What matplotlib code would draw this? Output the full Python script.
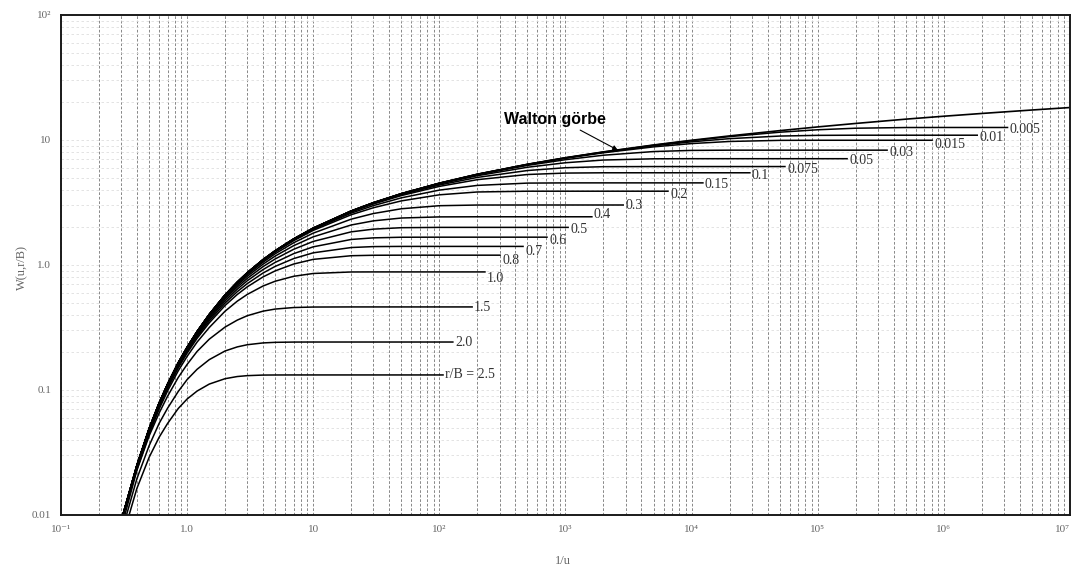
import matplotlib.pyplot as plt
from matplotlib.ticker import LogLocator, NullFormatter

# 1/u grid shared by all curves (each leaky curve uses the first len(w) points)
inv_u = [0.4, 0.5, 0.6, 0.7, 0.85, 1, 1.2, 1.5, 2, 2.5, 3, 4, 5, 7, 10,
         20, 30, 50, 100, 200, 500, 1e3, 2e3, 5e3, 1e4, 2e4, 5e4,
         1e5, 2e5, 5e5, 1e6, 2e6, 5e6, 1e7]

# Walton (Theis) curve
walton_start = 0.31
walton_w = [0.0249, 0.0489, 0.0784, 0.111, 0.1645, 0.219, 0.293, 0.402, 0.575, 0.728,
            0.866, 1.102, 1.299, 1.615, 1.970, 2.702, 3.148, 3.72, 4.51, 5.32, 6.39,
            7.21, 8.03, 9.12, 9.95, 10.78, 11.88, 12.72, 13.56, 14.68, 15.49, 16.30,
            17.37, 18.18]

# leaky curves W(u, r/B)
rb_labels = ["0.005", "0.01", "0.015", "0.03", "0.05", "0.075", "0.1", "0.15", "0.2",
             "0.3", "0.4", "0.5", "0.6", "0.7", "0.8", "1.0", "1.5", "2.0", "r/B = 2.5"]
rb_start = [0.31, 0.31, 0.31, 0.31, 0.31, 0.31, 0.31, 0.31, 0.31,
            0.31, 0.31, 0.31, 0.31, 0.31, 0.31, 0.31, 0.321, 0.331, 0.347]
rb_end = [3.2e6, 1.84e6, 8.07e5, 3.55e5, 1.71e5, 5.5e4, 2.9e4, 1.23e4, 6.5e3,
          2.87e3, 1.62e3, 1.05e3, 714, 461, 303, 230, 182, 128, 107]
rb_w = [
    [0.0249, 0.0489, 0.0784, 0.111, 0.1645, 0.219, 0.293, 0.402, 0.575, 0.728, 0.866, 1.102,
     1.299, 1.615, 1.970, 2.702, 3.148, 3.72, 4.51, 5.32, 6.39, 7.20, 8.01, 9.08, 9.87,
     10.64, 11.54, 12.07, 12.42, 12.58, 12.59],
    [0.0249, 0.0489, 0.0784, 0.111, 0.1645, 0.219, 0.293, 0.402, 0.575, 0.728, 0.866, 1.102,
     1.299, 1.615, 1.970, 2.702, 3.148, 3.72, 4.51, 5.31, 6.37, 7.18, 7.97, 8.98, 9.67,
     10.25, 10.75, 10.89, 10.92],
    [0.0249, 0.0489, 0.0784, 0.111, 0.1645, 0.219, 0.293, 0.402, 0.575, 0.728, 0.866, 1.102,
     1.299, 1.615, 1.970, 2.702, 3.148, 3.72, 4.50, 5.30, 6.36, 7.14, 7.90, 8.81, 9.36,
     9.73, 9.93, 9.95],
    [0.0249, 0.0489, 0.0784, 0.111, 0.1645, 0.219, 0.293, 0.402, 0.575, 0.728, 0.866, 1.102,
     1.299, 1.615, 1.970, 2.702, 3.141, 3.708, 4.488, 5.266, 6.261, 6.957, 7.552, 8.081,
     8.254, 8.29],
    [0.0249, 0.0489, 0.0784, 0.111, 0.1645, 0.219, 0.293, 0.402, 0.575, 0.728, 0.866, 1.102,
     1.299, 1.615, 1.965, 2.691, 3.129, 3.687, 4.444, 5.178, 6.052, 6.574, 6.912, 7.071,
     7.084],
    [0.0249, 0.0489, 0.0784, 0.111, 0.1645, 0.219, 0.293, 0.402, 0.575, 0.728, 0.865, 1.101,
     1.296, 1.607, 1.959, 2.676, 3.106, 3.648, 4.362, 5.018, 5.697, 5.999, 6.115, 6.13],
    [0.0249, 0.0489, 0.0783, 0.111, 0.1643, 0.219, 0.2923, 0.402, 0.574, 0.7256, 0.864, 1.096,
     1.290, 1.602, 1.950, 2.655, 3.074, 3.592, 4.253, 4.813, 5.295, 5.436, 5.464, 5.465],
    [0.0249, 0.0489, 0.0782, 0.111, 0.164, 0.219, 0.2916, 0.401, 0.572, 0.7223, 0.858, 1.089,
     1.281, 1.586, 1.924, 2.599, 2.985, 3.445, 3.972, 4.331, 4.519, 4.537, 4.538],
    [0.0249, 0.0489, 0.0781, 0.111, 0.1635, 0.218, 0.2906, 0.398, 0.567, 0.718, 0.852, 1.079,
     1.267, 1.564, 1.891, 2.523, 2.870, 3.256, 3.642, 3.837, 3.892, 3.893],
    [0.0247, 0.0485, 0.0776, 0.110, 0.1623, 0.216, 0.2878, 0.396, 0.559, 0.705, 0.834, 1.052,
     1.230, 1.506, 1.798, 2.325, 2.580, 2.817, 2.980, 3.017, 3.019],
    [0.0246, 0.0481, 0.077, 0.109, 0.1606, 0.2135, 0.2839, 0.387, 0.547, 0.6876, 0.811, 1.015,
     1.179, 1.427, 1.679, 2.089, 2.254, 2.375, 2.425, 2.43],
    [0.0244, 0.0477, 0.0762, 0.1078, 0.1585, 0.2103, 0.279, 0.378, 0.533, 0.6658, 0.781, 0.970,
     1.118, 1.335, 1.543, 1.841, 1.935, 1.987, 1.999],
    [0.0242, 0.0472, 0.0754, 0.1063, 0.156, 0.2065, 0.2731, 0.3686, 0.5153, 0.6402, 0.7475,
     0.9185, 1.049, 1.232, 1.397, 1.600, 1.648, 1.667, 1.669],
    [0.0239, 0.0467, 0.0742, 0.1046, 0.153, 0.202, 0.2663, 0.3571, 0.4956, 0.6118, 0.7092,
     0.862, 0.9747, 1.125, 1.251, 1.379, 1.403, 1.408],
    [0.0236, 0.046, 0.073, 0.1026, 0.1497, 0.197, 0.2587, 0.3445, 0.4741, 0.5805, 0.6685,
     0.8024, 0.8973, 1.0176, 1.109, 1.186, 1.196, 1.198],
    [0.0230, 0.0444, 0.0702, 0.0981, 0.142, 0.1855, 0.2415, 0.3161, 0.4266, 0.5134, 0.5813,
     0.6786, 0.7416, 0.8119, 0.855, 0.879, 0.880],
    [0.0228, 0.0429, 0.0653, 0.089, 0.1257, 0.160, 0.2033, 0.255, 0.3185, 0.3622, 0.3927,
     0.4271, 0.444, 0.4566, 0.4608, 0.4617],
    [0.0195, 0.0358, 0.054, 0.0714, 0.0971, 0.121, 0.1463, 0.1749, 0.2051, 0.2211, 0.2301,
     0.2379, 0.2405, 0.2417, 0.2419],
    [0.0163, 0.0289, 0.0418, 0.0539, 0.071, 0.0846, 0.098, 0.1115, 0.1231, 0.1281, 0.1302,
     0.1316, 0.1318, 0.1319],
]

x_ticks = [0.1, 1, 10, 1e2, 1e3, 1e4, 1e5, 1e6, 1e7]
x_ticklabels = ["10⁻¹", "1.0", "10", "10²", "10³", "10⁴", "10⁵", "10⁶", "10⁷"]
y_ticks = [0.01, 0.1, 1, 10, 100]
y_ticklabels = ["0.01", "0.1", "1.0", "10", "10²"]

# vertical nudge of each curve label (pixels, negative = down)
label_dy = [-2, -2, -4, -2, -2, -3, -3, -2, -3, -1, 2, -2, -3, -5, -5, -7, -1, 0, 0]

serif = ["Liberation Serif", "DejaVu Serif"]

fig = plt.figure(figsize=(10.75, 5.72), dpi=100)
ax = fig.add_axes([0.0567, 0.0997, 0.9386, 0.8741])
ax.set_xscale("log")
ax.set_yscale("log")
ax.set_xlim(0.1, 1e7)
ax.set_ylim(0.01, 100)

ax.xaxis.set_minor_locator(LogLocator(base=10, subs=range(2, 10), numticks=20))
ax.yaxis.set_minor_locator(LogLocator(base=10, subs=range(2, 10), numticks=20))
ax.xaxis.set_minor_formatter(NullFormatter())
ax.yaxis.set_minor_formatter(NullFormatter())
ax.grid(which="both", axis="x", color="0.5", ls=(0, (3, 2)), lw=0.65)
ax.grid(which="both", axis="y", color="0.87", ls=(0, (3, 3)), lw=0.6)
ax.set_axisbelow(True)

ax.set_xticks(x_ticks)
ax.set_xticklabels(x_ticklabels, family=serif, fontsize=8, color="0.4")
ax.get_xticklabels()[-1].set_ha("right")
ax.set_yticks(y_ticks)
ax.set_yticklabels(y_ticklabels, family=serif, fontsize=8, color="0.4")
ax.tick_params(which="both", length=0, pad=7)

for sp in ax.spines.values():
    sp.set_linewidth(1.4)
    sp.set_color("0.1")

# Walton curve
ax.plot([walton_start] + inv_u, [0.01] + walton_w, color="k", lw=1.2)

# leaky curves and their labels
for lab, t0, t1, w, dy in zip(rb_labels, rb_start, rb_end, rb_w, label_dy):
    xs = [t0] + inv_u[:len(w)] + [t1]
    ys = [0.01] + w + [w[-1]]
    ax.plot(xs, ys, color="k", lw=1.1)
    ax.annotate(lab, xy=(t1, w[-1]), xytext=(1.5, dy * 0.72), textcoords="offset points",
                ha="left", va="center", family=serif, fontsize=10, color="0.2")

ax.annotate("Walton görbe", xy=(2.6e3, 8.3), xytext=(820, 14.5),
            ha="center", va="center", fontsize=11.5, fontweight="bold",
            family="Liberation Sans", color="k",
            arrowprops=dict(arrowstyle="-|>", lw=0.8, color="k", mutation_scale=7,
                            shrinkA=0, shrinkB=0, relpos=(0.7, 0.0)))

fig.text(22 / 1075, 1 - 267 / 572, "W(u,r/B)", rotation=90, ha="center", va="center",
         family=serif, fontsize=9, color="0.4")
fig.text(563 / 1075, 1 - 561 / 572, "1/u", ha="center", va="center",
         family=serif, fontsize=9, color="0.4")

fig.savefig("out.png", dpi=100)
